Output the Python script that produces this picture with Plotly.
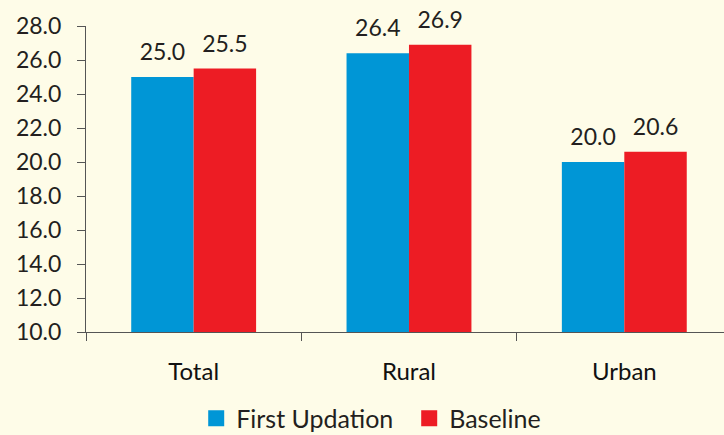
import plotly.graph_objects as go

categories = ["Total", "Rural", "Urban"]
first_updation = [25.0, 26.4, 20.0]
baseline = [25.5, 26.9, 20.6]
y_ticks = [10, 12, 14, 16, 18, 20, 22, 24, 26, 28]

BG = "#FEFCE8"
FONT = "Lato, Open Sans, sans-serif"
TXT = "#231F20"
BLUE = "#0096D6"
RED = "#ED1C24"

def lab(vals):
    return [f"<span style='font-size:23px'>{v:.1f}</span><br> " for v in vals]

fig = go.Figure()
for name, vals, col in [("First Updation", first_updation, BLUE),
                        ("Baseline", baseline, RED)]:
    fig.add_trace(go.Bar(x=categories, y=vals, name=name, showlegend=False,
                         marker=dict(color=col, line=dict(width=0)),
                         text=lab(vals), textposition="outside",
                         textfont=dict(size=9, color=TXT, family=FONT),
                         cliponaxis=False))
for name, col in [("First Updation", BLUE), ("Baseline", RED)]:
    fig.add_trace(go.Scatter(x=[None], y=[None], mode="markers", name=name,
                             marker=dict(symbol="square", size=17, color=col)))

fig.update_layout(
    width=724, height=435,
    margin=dict(l=86, r=0, t=26, b=103),
    paper_bgcolor=BG, plot_bgcolor=BG,
    barmode="group", bargap=0.42, bargroupgap=0,
    font=dict(family=FONT, size=20, color=TXT),
    showlegend=True,
    legend=dict(orientation="h", xref="container", yref="container",
                x=0.271, xanchor="left", y=0.038, yanchor="middle",
                font=dict(size=25, color=TXT, family=FONT), itemwidth=30,
                entrywidth=168, entrywidthmode="pixels",
                bgcolor="rgba(0,0,0,0)"),
)
fig.update_xaxes(type="category", range=[-0.5, 2.463], tickson="boundaries",
                 ticks="outside", ticklen=8, tickcolor="#555555", tickwidth=1,
                 showline=True, linecolor="#555555", linewidth=1,
                 showgrid=False, zeroline=False, ticklabelstandoff=18,
                 tickfont=dict(size=24, color="#111111", family=FONT))
fig.update_yaxes(range=[10, 28], tickvals=y_ticks,
                 ticktext=[f"{v:.1f}" for v in y_ticks],
                 ticks="outside", ticklen=8, tickcolor="#555555", tickwidth=1,
                 showline=True, linecolor="#555555", linewidth=1,
                 showgrid=False, zeroline=False, ticklabelstandoff=11,
                 tickfont=dict(size=23, color=TXT, family=FONT))

fig.write_html("out.html", config={"displayModeBar": False},
               post_script="document.body.style.margin='0';document.body.style.background='" + BG + "';")
